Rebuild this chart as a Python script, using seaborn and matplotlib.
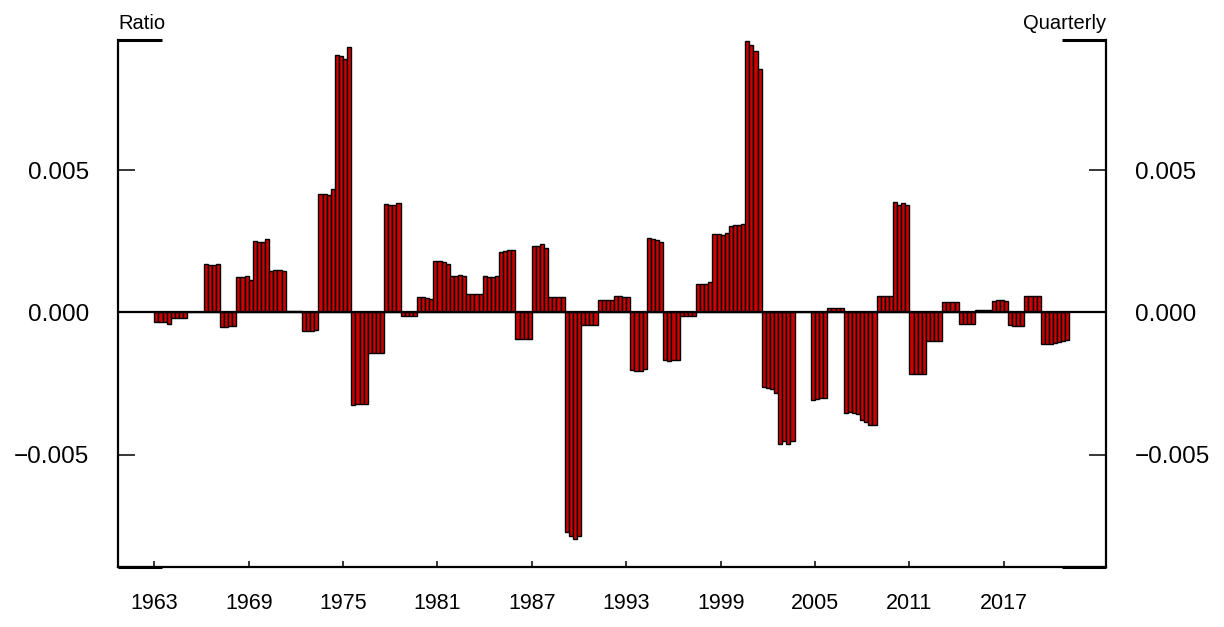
import numpy as np
import pandas as pd
import matplotlib
matplotlib.use("Agg")
import matplotlib.pyplot as plt
import seaborn as sns

# quarterly ratio values (223 bars)
values = [
    -0.00035, -0.00035, -0.00035, -0.00039,
    -0.00021, -0.00021, -0.00021, -0.00021,
    0.00002, 0.00002, 0.00002, 0.00002,
    0.00170, 0.00167, 0.00167, 0.00169,
    -0.00050, -0.00050, -0.00048, -0.00047,
    0.00126, 0.00123, 0.00128, 0.00113,
    0.00251, 0.00249, 0.00246, 0.00257,
    0.00146, 0.00150, 0.00148, 0.00146,
    0.00006, 0.00006, 0.00006, 0.00004,
    -0.00065, -0.00066, -0.00066, -0.00061,
    0.00415, 0.00417, 0.00411, 0.00435,
    0.00906, 0.00900, 0.00889, 0.00931,
    -0.00326, -0.00323, -0.00320, -0.00320,
    -0.00144, -0.00144, -0.00144, -0.00144,
    0.00380, 0.00378, 0.00378, 0.00385,
    -0.00014, -0.00014, -0.00014, -0.00014,
    0.00053, 0.00053, 0.00052, 0.00049,
    0.00182, 0.00181, 0.00176, 0.00170,
    0.00128, 0.00128, 0.00130, 0.00128,
    0.00065, 0.00065, 0.00065, 0.00065,
    0.00127, 0.00123, 0.00123, 0.00129,
    0.00211, 0.00215, 0.00218, 0.00220,
    -0.00092, -0.00092, -0.00092, -0.00092,
    0.00235, 0.00235, 0.00240, 0.00228,
    0.00054, 0.00054, 0.00054, 0.00054,
    -0.00770, -0.00784, -0.00796, -0.00784,
    -0.00045, -0.00045, -0.00045, -0.00045,
    0.00043, 0.00043, 0.00043, 0.00043,
    0.00059, 0.00059, 0.00056, 0.00054,
    -0.00203, -0.00205, -0.00205, -0.00197,
    0.00260, 0.00258, 0.00256, 0.00249,
    -0.00168, -0.00170, -0.00168, -0.00168,
    -0.00014, -0.00014, -0.00014, -0.00014,
    0.00099, 0.00099, 0.00101, 0.00106,
    0.00275, 0.00275, 0.00271, 0.00278,
    0.00305, 0.00308, 0.00308, 0.00309,
    0.00955, 0.00941, 0.00917, 0.00856,
    -0.00262, -0.00265, -0.00268, -0.00283,
    -0.00461, -0.00452, -0.00461, -0.00450,
    0.00000, 0.00000, 0.00000, 0.00000,
    -0.00306, -0.00304, -0.00302, -0.00302,
    0.00016, 0.00016, 0.00016, 0.00016,
    -0.00353, -0.00350, -0.00352, -0.00356,
    -0.00377, -0.00385, -0.00397, -0.00397,
    0.00059, 0.00059, 0.00059, 0.00059,
    0.00387, 0.00378, 0.00386, 0.00376,
    -0.00215, -0.00215, -0.00217, -0.00217,
    -0.00101, -0.00099, -0.00099, -0.00099,
    0.00038, 0.00038, 0.00038, 0.00038,
    -0.00042, -0.00042, -0.00042, -0.00042,
    0.00010, 0.00010, 0.00010, 0.00010,
    0.00042, 0.00044, 0.00044, 0.00042,
    -0.00045, -0.00047, -0.00047, -0.00048,
    0.00059, 0.00059, 0.00059, 0.00059,
    -0.00109, -0.00110, -0.00110, -0.00107, -0.00103, -0.00100, -0.00097,
]
year_labels = ["1963", "1969", "1975", "1981", "1987", "1993",
               "1999", "2005", "2011", "2017"]
label_step = 23  # one year label every 23 bars
y_ticks = [-0.005, 0.0, 0.005]
y_tick_labels = ["\u22120.005", "0.000", "0.005"]

df = pd.DataFrame({"period": np.arange(len(values)), "ratio": values})

sns.set_style("white")
plt.rcParams["font.family"] = ["Liberation Sans", "DejaVu Sans"]
plt.rcParams["text.color"] = "black"
plt.rcParams["xtick.color"] = "black"
plt.rcParams["ytick.color"] = "black"

fig = plt.figure(figsize=(12.24, 6.27), dpi=100)
ax = fig.add_axes([118 / 1224, 1 - 567 / 627, 988 / 1224, 527 / 627])

sns.barplot(data=df, x="period", y="ratio", color="#cc0000", saturation=1,
            width=1.0, edgecolor="black", linewidth=1.0, errorbar=None, ax=ax)
ax.axhline(0, color="black", lw=1.6, zorder=3)

ax.set_xlim(-9.35, 231.4)
ax.set_ylim(-0.00894, 0.00957)
ax.set_xlabel("")
ax.set_ylabel("")

ax.set_xticks(np.arange(len(year_labels)) * label_step - 0.5)
ax.set_xticklabels(year_labels, fontsize=15.5)
ax.set_yticks(y_ticks)
ax.set_yticklabels(y_tick_labels, fontsize=17.5)
ax.tick_params(axis="y", direction="in", length=12, width=1.1, pad=21,
               left=True, right=True, labelleft=True, labelright=True,
               colors="black")
ax.tick_params(axis="x", direction="in", length=4.5, width=1.1, pad=19,
               bottom=True, colors="black")

for side in ["left", "right", "bottom"]:
    ax.spines[side].set_visible(True)
    ax.spines[side].set_color("black")
    ax.spines[side].set_linewidth(1.6)
ax.spines["top"].set_visible(False)

# short corner brackets at the top and bottom
bx = 44 / 988
for x0, x1 in [(0, bx), (1 - bx, 1)]:
    ax.plot([x0, x1], [1, 1], color="black", lw=2.2, transform=ax.transAxes,
            clip_on=False, solid_capstyle="butt")
    ax.plot([x0, x1], [0, 0], color="black", lw=2.2, transform=ax.transAxes,
            clip_on=False, solid_capstyle="butt")

ax.annotate("Ratio", xy=(0, 1), xycoords="axes fraction", xytext=(0, 8),
            textcoords="offset points", ha="left", va="baseline", fontsize=14.5)
ax.annotate("Quarterly", xy=(1, 1), xycoords="axes fraction", xytext=(0, 8),
            textcoords="offset points", ha="right", va="baseline", fontsize=14.5)

fig.savefig("out.png", dpi=100)
